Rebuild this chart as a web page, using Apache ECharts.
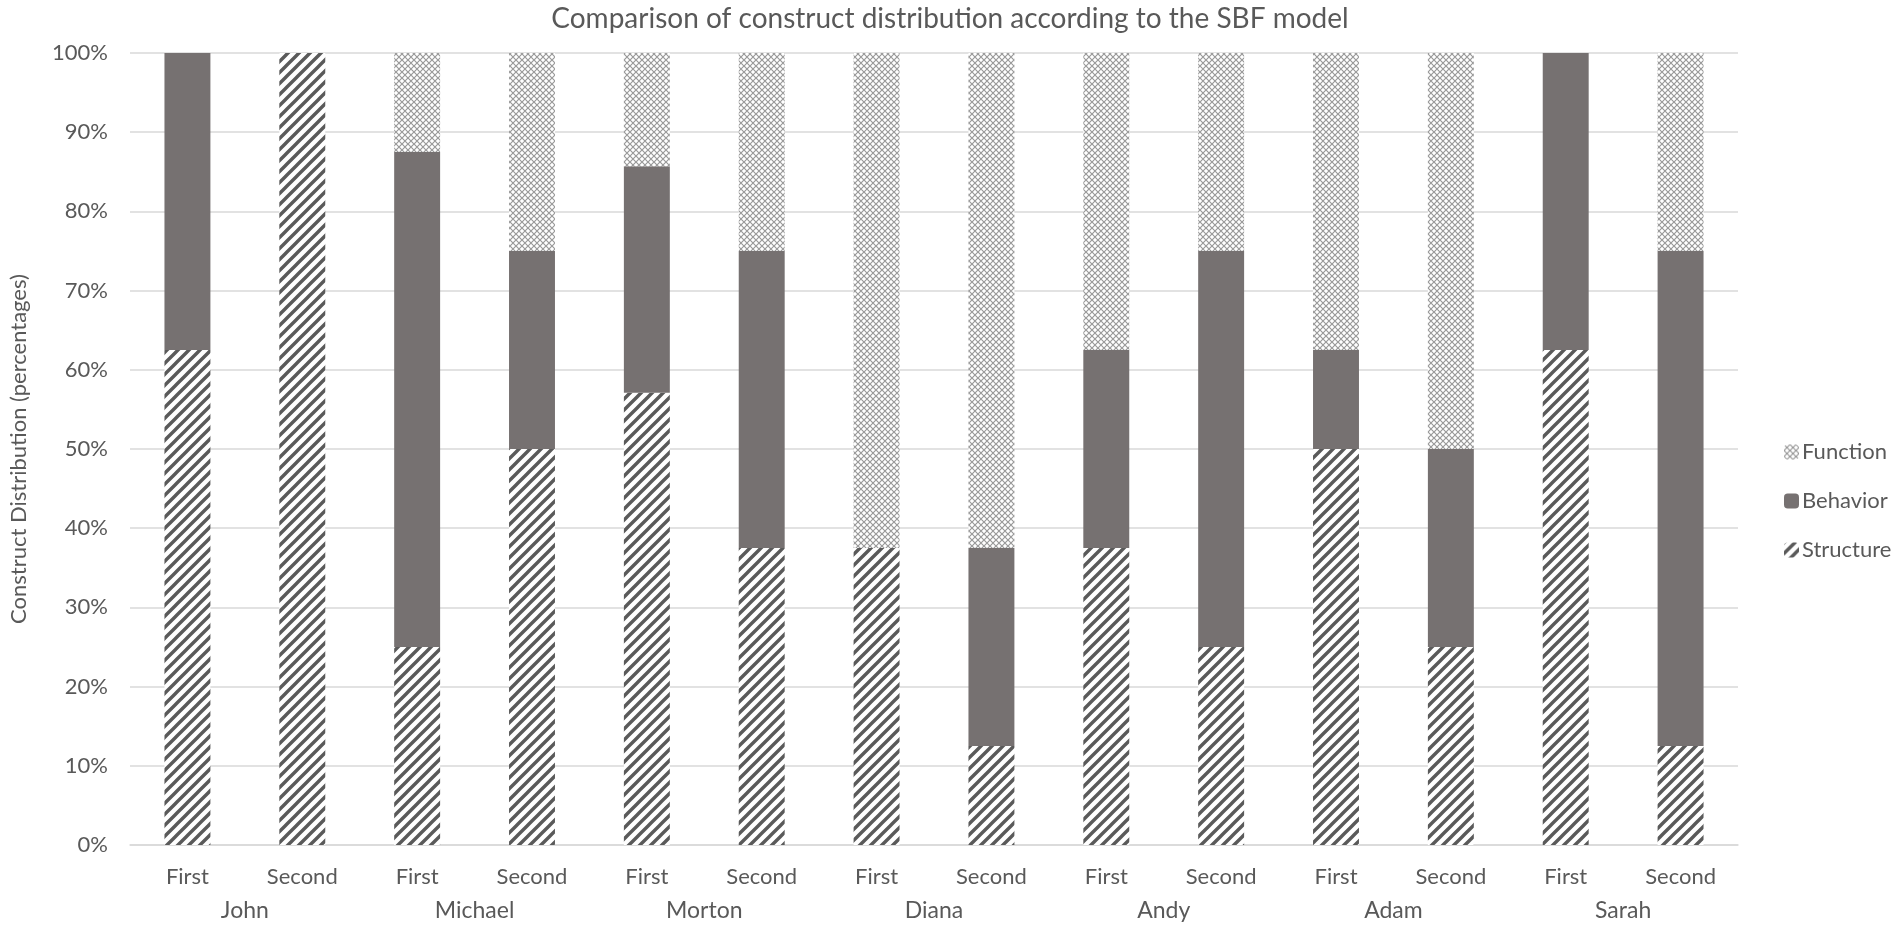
<!DOCTYPE html>
<html>
<head>
<meta charset="utf-8">
<script src="https://cdn.jsdelivr.net/npm/echarts@6/dist/echarts.min.js"></script>
<style>
html,body{margin:0;padding:0;background:#fff;}
#chart{width:1901px;height:929px;}
</style>
</head>
<body>
<div id="chart"></div>
<script>
const people = ['John', 'Michael', 'Morton', 'Diana', 'Andy', 'Adam', 'Sarah'];
const sessions = ['First', 'Second', 'First', 'Second', 'First', 'Second', 'First', 'Second', 'First', 'Second', 'First', 'Second', 'First', 'Second'];
const structureVals = [62.5, 100, 25, 50, 57.1, 37.5, 37.5, 12.5, 37.5, 25, 50, 25, 62.5, 12.5];
const behaviorVals  = [37.5, 0, 62.5, 25, 28.6, 37.5, 0, 25, 25, 50, 12.5, 25, 37.5, 62.5];
const functionVals  = [0, 0, 12.5, 25, 14.3, 25, 62.5, 62.5, 37.5, 25, 37.5, 50, 0, 25];
const yTicks = [0, 10, 20, 30, 40, 50, 60, 70, 80, 90, 100];

function stripePattern() {
  const s = 11;
  const c = document.createElement('canvas');
  c.width = s; c.height = s;
  const g = c.getContext('2d');
  g.fillStyle = '#ffffff';
  g.fillRect(0, 0, s, s);
  g.strokeStyle = '#5a5a5a';
  g.lineWidth = 3.4;
  g.beginPath();
  g.moveTo(-2, s + 2); g.lineTo(s + 2, -2);
  g.moveTo(-2, 2); g.lineTo(2, -2);
  g.moveTo(s - 2, s + 2); g.lineTo(s + 2, s - 2);
  g.stroke();
  return c;
}
function latticePattern() {
  const s = 6;
  const c = document.createElement('canvas');
  c.width = s; c.height = s;
  const g = c.getContext('2d');
  g.fillStyle = '#ffffff';
  g.fillRect(0, 0, s, s);
  g.strokeStyle = '#999999';
  g.lineWidth = 1.2;
  g.beginPath();
  g.moveTo(0, 0); g.lineTo(s, s);
  g.moveTo(0, s); g.lineTo(s, 0);
  g.stroke();
  return c;
}

const structureFill = { image: stripePattern(), repeat: 'repeat' };
const functionFill = { image: latticePattern(), repeat: 'repeat' };
const behaviorColor = '#767171';
const txt = '#595959';
const font = 'Lato, "Open Sans", sans-serif';

const chart = echarts.init(document.getElementById('chart'));
chart.setOption({
  animation: false,
  backgroundColor: '#ffffff',
  textStyle: { fontFamily: font },
  title: {
    text: 'Comparison of construct distribution according to the SBF model',
    left: 945, textAlign: 'center', top: 0,
    textStyle: { fontFamily: font, fontSize: 28, fontWeight: 'normal', color: txt }
  },
  legend: {
    orient: 'vertical',
    left: 1779, top: 436,
    itemWidth: 15, itemHeight: 15, itemGap: 27,
    data: ['Function', 'Behavior', 'Structure'],
    textStyle: { fontFamily: font, fontSize: 22, color: txt, padding: [0, 0, 0, -2] }
  },
  grid: { left: 117, right: 163, top: 53, bottom: 84 },
  xAxis: [
    {
      type: 'category', data: sessions, position: 'bottom',
      axisLine: { lineStyle: { color: '#d9d9d9', width: 1.5 } },
      axisTick: { show: false },
      axisLabel: { color: txt, fontSize: 22, margin: 21, fontFamily: font, interval: 0 }
    },
    {
      type: 'category', data: people, position: 'bottom',
      axisLine: { show: false }, axisTick: { show: false },
      axisLabel: { color: txt, fontSize: 23, margin: 54, fontFamily: font, interval: 0 }
    }
  ],
  yAxis: {
    type: 'value', min: yTicks[0], max: yTicks[yTicks.length - 1], interval: 10,
    name: 'Construct Distribution (percentages)', nameLocation: 'middle', nameGap: 100,
    nameTextStyle: { color: txt, fontSize: 22, fontFamily: font },
    axisLine: { show: false }, axisTick: { show: false },
    axisLabel: { color: txt, fontSize: 22, margin: 22, formatter: '{value}%', fontFamily: font },
    splitLine: { lineStyle: { color: '#d9d9d9', width: 1.5 } }
  },
  series: [
    { name: 'Structure', type: 'bar', stack: 'a', data: structureVals, barWidth: '40%',
      itemStyle: { color: structureFill } },
    { name: 'Behavior', type: 'bar', stack: 'a', data: behaviorVals, barWidth: '40%',
      itemStyle: { color: behaviorColor } },
    { name: 'Function', type: 'bar', stack: 'a', data: functionVals, barWidth: '40%',
      itemStyle: { color: functionFill } }
  ]
});
</script>
</body>
</html>
